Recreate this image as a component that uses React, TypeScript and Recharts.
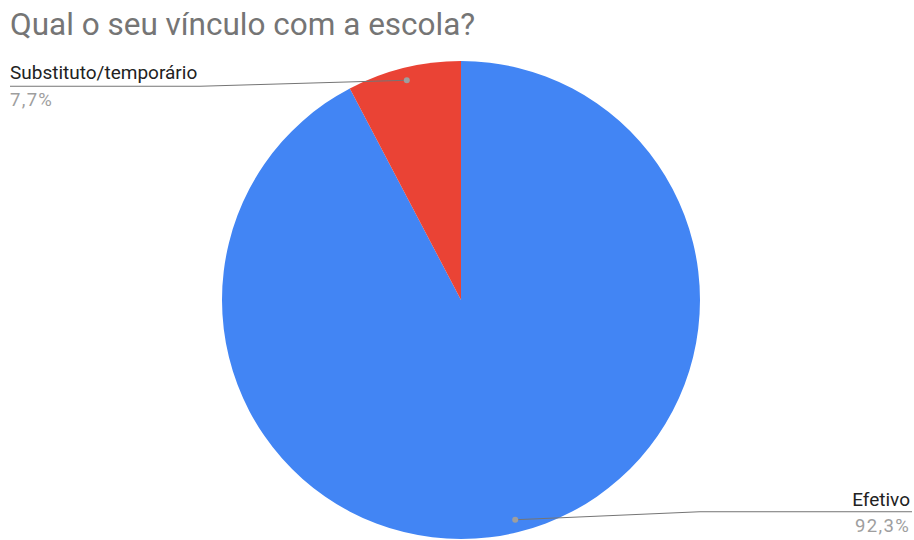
import React from 'react';
import { PieChart, Pie, Cell, Customized } from 'recharts';

const categories = ['Efetivo', 'Substituto/temporário'];
const values = [92.3, 7.7];
const percentLabels = ['92,3%', '7,7%'];
const colors = ['#4285F4', '#EA4335'];

const data = categories.map((name, i) => ({ name, value: values[i], pct: percentLabels[i] }));

const RAD = Math.PI / 180;
const FONT = 'Roboto, Arial, sans-serif';

const renderLabel = (props: any) => {
  const { cx, cy, midAngle, outerRadius, index } = props;
  const r = outerRadius * 0.947;
  const dx = cx + r * Math.cos(-midAngle * RAD);
  const dy = cy + r * Math.sin(-midAngle * RAD);
  const d = data[index];
  const left = dx < cx;
  if (left) {
    const ly = dy + 6;
    return (
      <g key={`lbl-${index}`}>
        <polyline points={`${dx},${dy} ${200},${ly} ${10},${ly}`} fill="none" stroke="#757575" strokeWidth={1} />
        <circle cx={dx} cy={dy} r={3} fill="#9e9e9e" />
        <text x={10} y={ly - 7} fontFamily={FONT} fontSize={19} fill="#222222" textAnchor="start">{d.name}</text>
        <text x={10} y={ly + 20} fontFamily={FONT} fontSize={18.5} letterSpacing={1.3} fill="#9e9e9e" textAnchor="start">{d.pct}</text>
      </g>
    );
  }
  const ly = dy - 8;
  return (
    <g key={`lbl-${index}`}>
      <polyline points={`${dx},${dy} ${700},${ly} ${912},${ly}`} fill="none" stroke="#757575" strokeWidth={1} />
      <circle cx={dx} cy={dy} r={3} fill="#9e9e9e" />
      <text x={910} y={ly - 6} fontFamily={FONT} fontSize={19} fill="#222222" textAnchor="end">{d.name}</text>
      <text x={910} y={ly + 20} fontFamily={FONT} fontSize={18.5} letterSpacing={1.3} fill="#9e9e9e" textAnchor="end">{d.pct}</text>
    </g>
  );
};

const Title = () => (
  <text x={10} y={35} fontFamily={FONT} fontSize={31.5} fill="#757575">Qual o seu vínculo com a escola?</text>
);

export default function App() {
  return (
    <div style={{ position: 'absolute', left: 0, top: 0, width: 914, height: 540, background: '#ffffff' }}>
      <PieChart width={914} height={540} margin={{ top: 0, right: 0, bottom: 0, left: 0 }}>
        <Pie
          data={data}
          dataKey="value"
          nameKey="name"
          cx={461}
          cy={300}
          outerRadius={239}
          startAngle={90}
          endAngle={-270}
          stroke="none"
          isAnimationActive={false}
          labelLine={false}
          label={renderLabel}
        >
          {data.map((d, i) => (
            <Cell key={d.name} fill={colors[i]} />
          ))}
        </Pie>
        <Customized component={Title} />
      </PieChart>
    </div>
  );
}
